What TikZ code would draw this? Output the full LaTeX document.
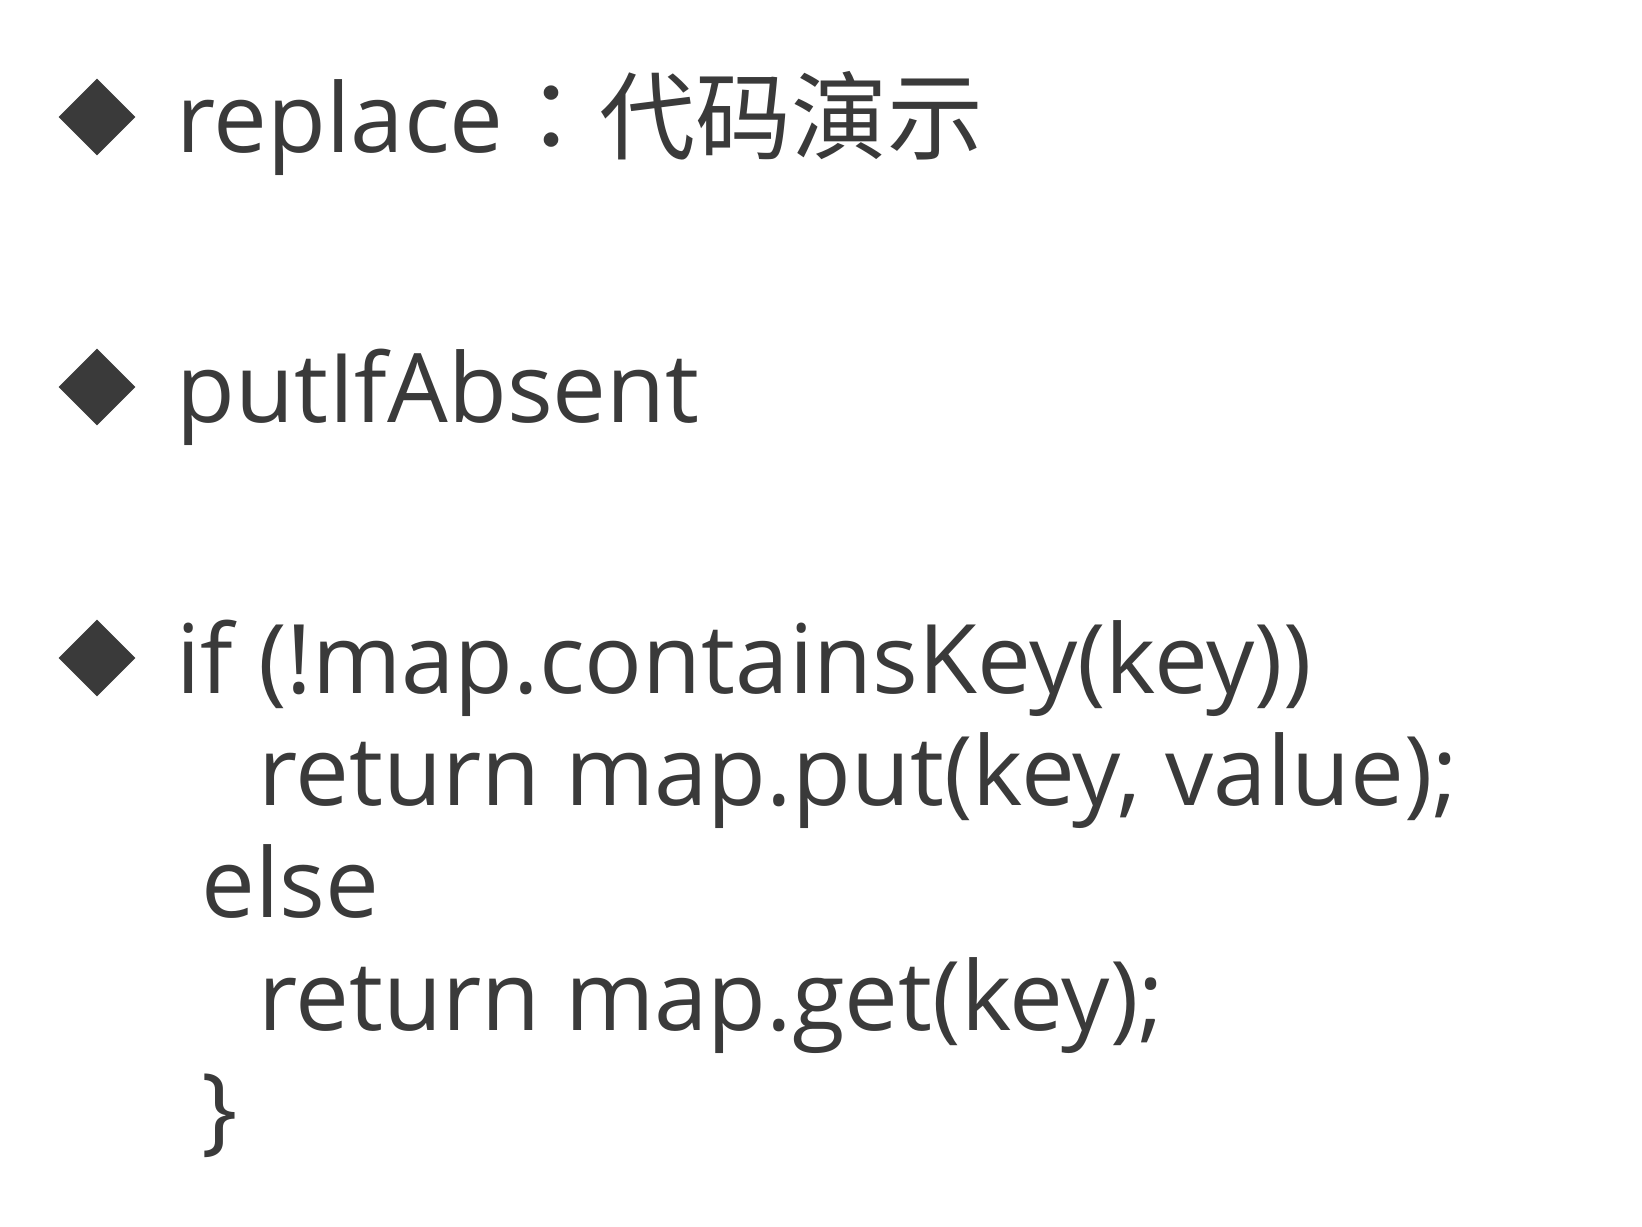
\documentclass[tikz,border=0pt]{standalone}
\usepackage{fontspec}
\setmainfont{Open Sans}
\newfontfamily\cjk{Noto Sans CJK SC}
\newfontfamily\cjkpunct{Noto Sans CJK TC}
\usetikzlibrary{shapes.geometric}
\definecolor{mgray}{RGB}{58,58,58}
\tikzset{bullet/.style = {diamond, fill=mgray, inner sep=0, minimum size=38.5pt}}
\tikzset{codeline/.style = {anchor=base west, inner sep=0, text=mgray,
                            font=\fontsize{48}{56}\selectfont}}

\begin{document}
\begin{tikzpicture}[x=0.5pt, y=-0.5pt]
      \useasboundingbox (0, 0) rectangle (1642, 1226);

      \node [bullet] (b1) at (97, 117) {};
      \node [bullet] (b2) at (97, 387) {};
      \node [bullet] (b3) at (97, 658) {};

      \node [codeline] (title) at (176, 152) {replace{\cjkpunct ：}{\cjk 代码演示}};
      \node [codeline] (put) at (176, 422) {putIfAbsent};
      \node [codeline] (cond) at (176, 693) {if (!map.containsKey(key))};
      \node [codeline] (ret1) at (258, 805) {return map.put(key, value);};
      \node [codeline] (els) at (201, 917) {else};
      \node [codeline] (ret2) at (258, 1030) {return map.get(key);};
      \node [codeline] (close) at (201, 1142) {\}};
    \end{tikzpicture}
\end{document}
